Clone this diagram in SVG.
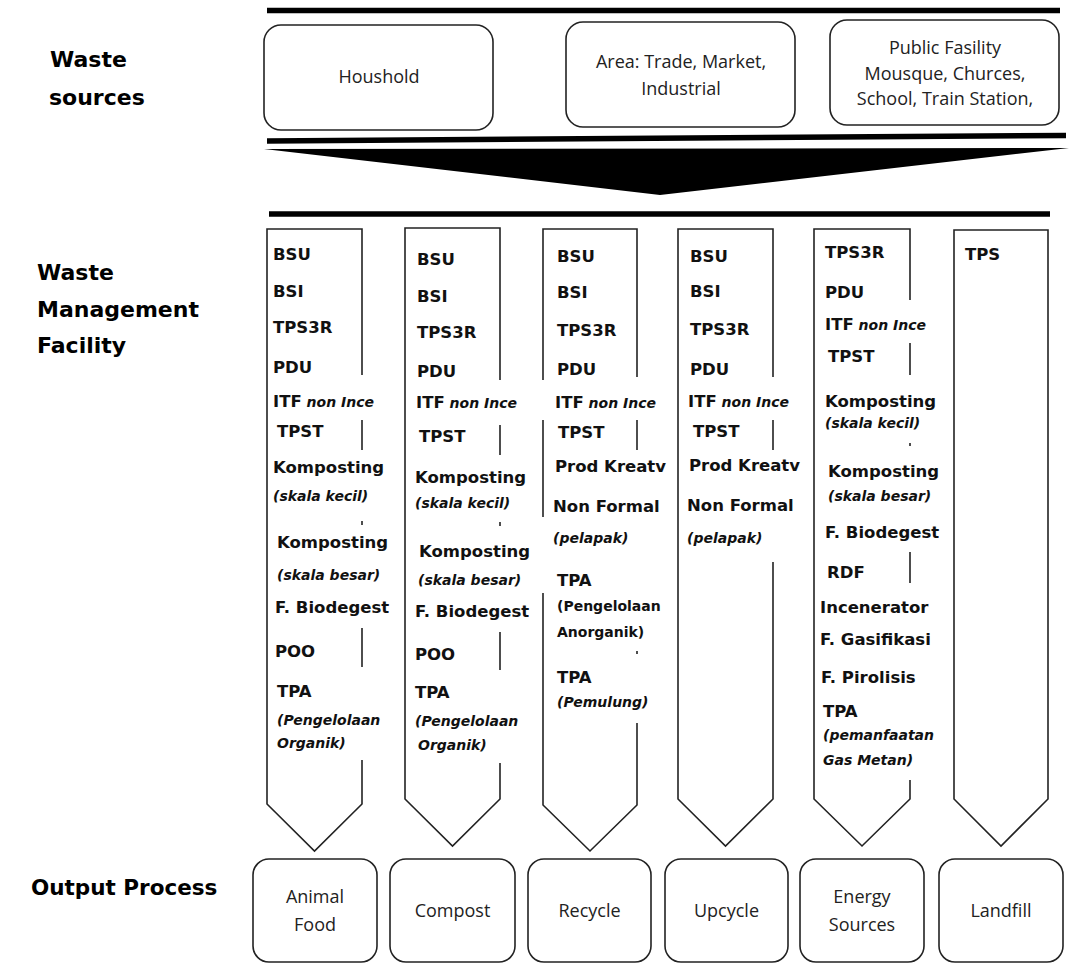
<svg xmlns="http://www.w3.org/2000/svg" width="1088" height="964" viewBox="0 0 1088 964">
<style>
.bg{fill:#fff}
.hd{font-family:"DejaVu Sans",sans-serif;font-weight:bold;font-size:22px;fill:#000}
.b{font-family:"DejaVu Sans",sans-serif;font-weight:bold;font-size:16.5px;fill:#111}
.i{font-family:"DejaVu Sans",sans-serif;font-weight:bold;font-style:italic;font-size:14px;fill:#111}
.u{font-family:"DejaVu Sans",sans-serif;font-weight:bold;font-size:14px;fill:#111}
.r{font-family:"Open Sans",sans-serif;font-size:18px;fill:#222;text-anchor:middle}
.box{fill:#fff;stroke:#222;stroke-width:1.6}
.col{fill:none;stroke:#222;stroke-width:1.6;stroke-linejoin:miter}
.bar{stroke:#000;stroke-width:5.5;fill:none}
</style>
<rect class="bg" x="0" y="0" width="1088" height="964"/>

<g id="row-labels">
<text class="hd" x="50" y="67">Waste</text>
<text class="hd" x="49" y="105">sources</text>
<text class="hd" x="37" y="280">Waste</text>
<text class="hd" x="37" y="317">Management</text>
<text class="hd" x="37" y="353">Facility</text>
<text class="hd" x="31" y="895" style="font-size:21.5px">Output Process</text>
</g>

<g id="connectors">
<line class="bar" x1="267" y1="10.5" x2="1060" y2="10.5"/>
<line class="bar" x1="267" y1="141" x2="1066" y2="135.5"/>
<polygon points="264,149 1069,148 660,195" fill="#000"/>
<line class="bar" x1="269" y1="214" x2="1050" y2="214"/>
</g>

<g id="src-household">
<rect class="box" x="264" y="25" width="229" height="105" rx="17"/>
<text class="r" x="379" y="83">Houshold</text>
</g>
<g id="src-area">
<rect class="box" x="566" y="22" width="229" height="105" rx="17"/>
<text class="r" x="681" y="68">Area: Trade, Market,</text>
<text class="r" x="681" y="95">Industrial</text>
</g>
<g id="src-public">
<rect class="box" x="830" y="20" width="229" height="105" rx="17"/>
<text class="r" x="945" y="54">Public Fasility</text>
<text class="r" x="945" y="80">Mousque, Churces,</text>
<text class="r" x="945" y="105">School, Train Station,</text>
</g>

<g id="col-1">
<path class="col" d="M362,375 V229 H267 V804 L314.5,851 L362,804 V760 M362,420 V450 M362,521 V525 M362,628 V667"/>
<text class="b" x="273" y="260">BSU</text>
<text class="b" x="273" y="297">BSI</text>
<text class="b" x="273" y="333">TPS3R</text>
<text class="b" x="273" y="373">PDU</text>
<text x="273" y="407"><tspan class="b">ITF</tspan><tspan class="i"> non Ince</tspan></text>
<text class="b" x="277" y="437">TPST</text>
<text class="b" x="273" y="473">Komposting</text>
<text class="i" x="273" y="501">(skala kecil)</text>
<text class="b" x="277" y="548">Komposting</text>
<text class="i" x="277" y="580">(skala besar)</text>
<text class="b" x="275" y="613">F. Biodegest</text>
<text class="b" x="275" y="657">POO</text>
<text class="b" x="277" y="697">TPA</text>
<text class="i" x="277" y="725">(Pengelolaan</text>
<text class="i" x="277" y="748">Organik)</text>
</g>

<g id="col-2">
<path class="col" d="M500,380 V228 H405 V799 L452.5,846 L500,799 V763 M500,425 V455 M500,522 V526 M500,632 V670"/>
<text class="b" x="417" y="265">BSU</text>
<text class="b" x="417" y="302">BSI</text>
<text class="b" x="417" y="338">TPS3R</text>
<text class="b" x="417" y="377">PDU</text>
<text x="416" y="408"><tspan class="b">ITF</tspan><tspan class="i"> non Ince</tspan></text>
<text class="b" x="419" y="442">TPST</text>
<text class="b" x="415" y="483">Komposting</text>
<text class="i" x="415" y="508">(skala kecil)</text>
<text class="b" x="419" y="557">Komposting</text>
<text class="i" x="418" y="585">(skala besar)</text>
<text class="b" x="415" y="617">F. Biodegest</text>
<text class="b" x="415" y="660">POO</text>
<text class="b" x="415" y="698">TPA</text>
<text class="i" x="415" y="726">(Pengelolaan</text>
<text class="i" x="418" y="750">Organik)</text>
</g>

<g id="col-3">
<path class="col" d="M543,380 V229 H637 V377 M543,420 V517 M543,593 V805 L590,851 L637,805 V723 M637,420 V450 M637,651 V654"/>
<text class="b" x="557" y="262">BSU</text>
<text class="b" x="557" y="298">BSI</text>
<text class="b" x="557" y="336">TPS3R</text>
<text class="b" x="557" y="375">PDU</text>
<text x="555" y="408"><tspan class="b">ITF</tspan><tspan class="i"> non Ince</tspan></text>
<text class="b" x="558" y="438">TPST</text>
<text class="b" x="555" y="472">Prod Kreatv</text>
<text class="b" x="553" y="512">Non Formal</text>
<text class="i" x="553" y="543">(pelapak)</text>
<text class="b" x="557" y="586">TPA</text>
<text class="u" x="557" y="611">(Pengelolaan</text>
<text class="u" x="557" y="637">Anorganik)</text>
<text class="b" x="557" y="683">TPA</text>
<text class="i" x="557" y="707">(Pemulung)</text>
</g>

<g id="col-4">
<path class="col" d="M773,377 V229 H678 V799 L725.5,846 L773,799 V562 M773,420 V450"/>
<text class="b" x="690" y="262">BSU</text>
<text class="b" x="690" y="297">BSI</text>
<text class="b" x="690" y="335">TPS3R</text>
<text class="b" x="690" y="375">PDU</text>
<text x="688" y="407"><tspan class="b">ITF</tspan><tspan class="i"> non Ince</tspan></text>
<text class="b" x="693" y="437">TPST</text>
<text class="b" x="689" y="471">Prod Kreatv</text>
<text class="b" x="687" y="511">Non Formal</text>
<text class="i" x="687" y="543">(pelapak)</text>
</g>

<g id="col-5">
<path class="col" d="M910,300 V229 H814 V799 L862,846 L910,799 V780 M910,343 V375 M910,443 V446 M910,552 V583"/>
<text class="b" x="825" y="258">TPS3R</text>
<text class="b" x="825" y="298">PDU</text>
<text x="825" y="330"><tspan class="b">ITF</tspan><tspan class="i"> non Ince</tspan></text>
<text class="b" x="828" y="362">TPST</text>
<text class="b" x="825" y="407">Komposting</text>
<text class="i" x="825" y="428">(skala kecil)</text>
<text class="b" x="828" y="477">Komposting</text>
<text class="i" x="828" y="501">(skala besar)</text>
<text class="b" x="825" y="538">F. Biodegest</text>
<text class="b" x="827" y="578">RDF</text>
<text class="b" x="820" y="613">Incenerator</text>
<text class="b" x="820" y="645">F. Gasifikasi</text>
<text class="b" x="821" y="683">F. Pirolisis</text>
<text class="b" x="823" y="717">TPA</text>
<text class="i" x="823" y="740">(pemanfaatan</text>
<text class="i" x="823" y="765">Gas Metan)</text>
</g>

<g id="col-6">
<path class="col" d="M954,230 H1048 V799 L1001,846 L954,799 Z"/>
<text class="b" x="965" y="260">TPS</text>
</g>

<g id="out-animal-food">
<rect class="box" x="253" y="859" width="124" height="103" rx="16"/>
<text class="r" x="315" y="903">Animal</text>
<text class="r" x="315" y="931">Food</text>
</g>
<g id="out-compost">
<rect class="box" x="390" y="859" width="125" height="103" rx="16"/>
<text class="r" x="452.5" y="917">Compost</text>
</g>
<g id="out-recycle">
<rect class="box" x="528" y="859" width="123" height="103" rx="16"/>
<text class="r" x="589.5" y="917">Recycle</text>
</g>
<g id="out-upcycle">
<rect class="box" x="665" y="859" width="123" height="103" rx="16"/>
<text class="r" x="726.5" y="917">Upcycle</text>
</g>
<g id="out-energy">
<rect class="box" x="800" y="859" width="124" height="103" rx="16"/>
<text class="r" x="862" y="903">Energy</text>
<text class="r" x="862" y="931">Sources</text>
</g>
<g id="out-landfill">
<rect class="box" x="939" y="859" width="124" height="103" rx="16"/>
<text class="r" x="1001" y="917">Landfill</text>
</g>
</svg>
